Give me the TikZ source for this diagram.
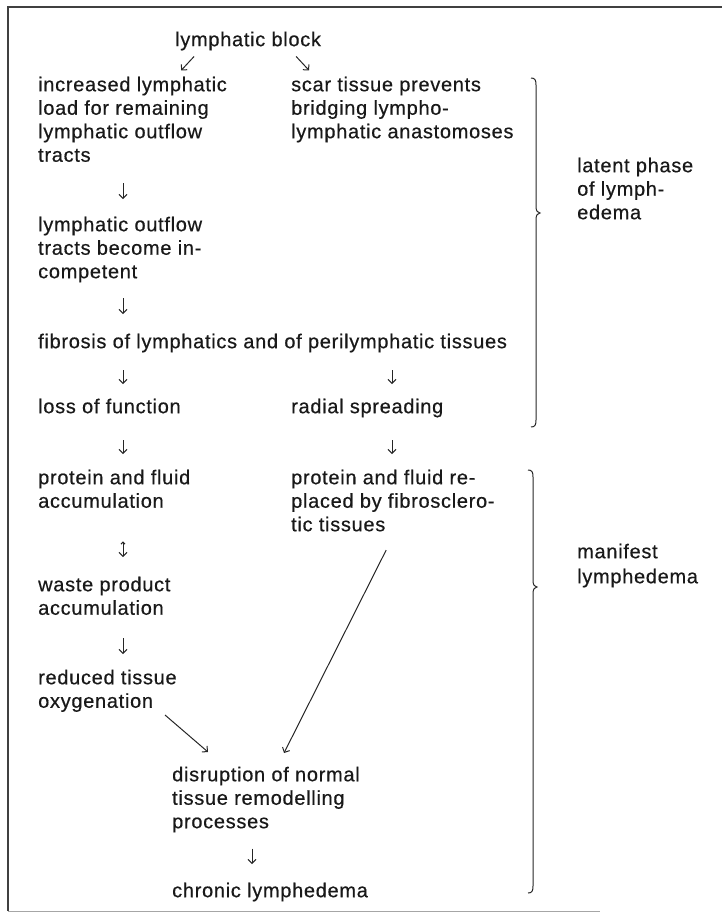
\documentclass[tikz,border=0pt]{standalone}
\usepackage{fontspec}
\setmainfont[LetterSpace=3.5,FakeBold=0.5]{Liberation Sans}
\usetikzlibrary{arrows.meta,calc}
\begin{document}
\begin{tikzpicture}[x=1pt,y=-1pt,
  txt/.style={anchor=north west, inner sep=0pt, align=left,
    font=\fontsize{20}{23.5}\selectfont, text=black!90,
    execute at begin node=\strut, execute at end node=\strut},
  arr/.style={-{Straight Barb[length=4pt,width=8pt]}, line width=1pt, draw=black!85},
  brk/.style={line width=1pt, draw=black!85},
  frame/.style={line width=1.1pt, draw=black!75}]
\useasboundingbox (0,0) rectangle (722,912);
% frame
\draw[frame] (722,7) -- (8,7) -- (8,911);
\draw[line width=0.6pt, draw=black!35] (8,911) -- (600,911);
% column coordinates
\coordinate (xl) at (123,0);
\coordinate (xr) at (392,0);
\coordinate (xc) at (252,0);
% nodes
\node[txt] (block) at (175,29.55) {lymphatic block};
\node[txt] (incr) at (38,76.55) {increased lymphatic\\load for remaining\\lymphatic outflow\\tracts};
\node[txt] (scar) at (291,76.55) {scar tissue prevents\\bridging lympho-\\lymphatic anastomoses};
\node[txt] (outf) at (38,216.55) {lymphatic outflow\\tracts become in-\\competent};
\node[txt] (fib) at (38,331.55) {fibrosis of lymphatics and of perilymphatic tissues};
\node[txt] (loss) at (38,396.55) {loss of function};
\node[txt] (rad) at (291,396.55) {radial spreading};
\node[txt] (protL) at (38,469.55) {protein and fluid\\accumulation};
\node[txt] (protR) at (291,469.55) {protein and fluid re-\\placed by fibrosclero-\\tic tissues};
\node[txt] (waste) at (38,576.55) {waste product\\accumulation};
\node[txt] (red) at (38,669.55) {reduced tissue\\oxygenation};
\node[txt] (disr) at (172,766.55) {disruption of normal\\tissue remodelling\\processes};
\node[txt] (chron) at (172,880.55) {chronic lymphedema};
\node[txt] (latent) at (577,157.55) {latent phase\\of lymph-\\edema};
\node[txt] (manif) at (577,543.55) {manifest\\[1.5pt]lymphedema};
% connectors
\draw[arr] (block.south) ++(-54,3) -- ++(-13,14);
\draw[arr] (block.south) ++(48,3) -- ++(13,14);
\draw[arr, shorten <=14.5pt, shorten >=17.5pt] (incr.south -| xl) -- (outf.north -| xl);
\draw[arr, shorten <=13pt, shorten >=17.5pt] (outf.south -| xl) -- (fib.north -| xl);
\draw[arr, shorten <=15pt, shorten >=12.5pt] (fib.south -| xl) -- (loss.north -| xl);
\draw[arr, shorten <=15pt, shorten >=12.5pt] (fib.south -| xr) -- (rad.north -| xr);
\draw[arr, shorten <=20pt, shorten >=15.5pt] (loss.south -| xl) -- (protL.north -| xl);
\draw[arr, shorten <=20pt, shorten >=15.5pt] (rad.south -| xr) -- (protR.north -| xr);
\draw[{Straight Barb[length=2pt,width=4pt]}-{Straight Barb[length=4pt,width=8pt]}, line width=1pt, draw=black!85, shorten <=26.5pt, shorten >=19.5pt] (protL.south -| xl) -- (waste.north -| xl);
\draw[arr, shorten <=16.5pt, shorten >=15.5pt] (waste.south -| xl) -- (red.north -| xl);
\coordinate (d1) at (208,752);
\coordinate (d2) at (284,753);
\draw[arr] (red.south west) ++(127,0) -- (d1);
\draw[arr, shorten <=13pt] (protR.south -| xr) -- (d2);
\draw[arr, shorten <=13pt, shorten >=16.5pt] (disr.south -| xc) -- (chron.north -| xc);
% brackets
\draw[brk] (531,78) .. controls (535,78) and (536,80) .. (536,85) -- (536,207)
  .. controls (536,211) and (538,213) .. (540,213)
  .. controls (538,213) and (536,215) .. (536,219) -- (536,420)
  .. controls (536,425) and (535,427) .. (531,427);
\draw[brk] (528,470) .. controls (532,470) and (533,472) .. (533,477) -- (533,581)
  .. controls (533,585) and (535,587) .. (537,587)
  .. controls (535,587) and (533,589) .. (533,593) -- (533,886)
  .. controls (533,891) and (532,893) .. (528,893);
\end{tikzpicture}
\end{document}
